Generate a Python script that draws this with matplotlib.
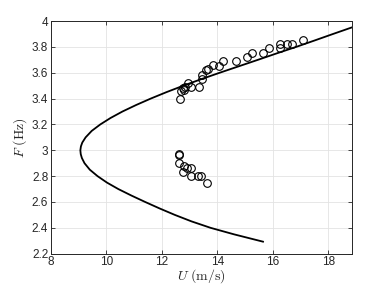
import matplotlib
matplotlib.use("Agg")
import matplotlib.pyplot as plt
from matplotlib.ticker import FuncFormatter

# Model curve, lower end -> vertex -> upper end
curve_U = [15.65, 14.60, 13.76, 13.07, 12.47, 11.92, 11.40, 10.90, 10.43, 10.02,
           9.68, 9.40, 9.21, 9.115, 9.074, 9.06,
           9.08, 9.13, 9.25, 9.47, 9.78, 10.15, 10.58, 11.07, 11.60, 12.17,
           12.78, 13.42, 14.09, 14.78, 15.47, 16.15, 16.85, 17.52, 18.18,
           18.85, 19.5]
curve_F = [2.293, 2.35, 2.40, 2.45, 2.50, 2.55, 2.60, 2.65, 2.70, 2.75,
           2.80, 2.85, 2.90, 2.94, 2.97, 3.00,
           3.03, 3.06, 3.10, 3.15, 3.20, 3.25, 3.30, 3.35, 3.40, 3.45,
           3.50, 3.55, 3.60, 3.65, 3.70, 3.75, 3.80, 3.85, 3.90,
           3.95, 4.00]

# Measured points, upper branch
up_U = [12.65, 12.7, 12.75, 12.8, 12.83, 12.95, 13.07, 13.34, 13.45, 13.45,
        13.61, 13.67, 13.85, 14.06, 14.21, 14.66, 15.06, 15.26, 15.66, 15.87,
        16.28, 16.28, 16.50, 16.68, 17.10]
up_F = [3.395, 3.46, 3.48, 3.47, 3.49, 3.52, 3.49, 3.49, 3.55, 3.58,
        3.62, 3.63, 3.66, 3.65, 3.69, 3.69, 3.72, 3.755, 3.755, 3.79,
        3.79, 3.82, 3.82, 3.82, 3.85]

# Measured points, lower branch
lo_U = [12.63, 12.63, 12.63, 12.80, 12.92, 13.04, 12.77, 13.05, 13.31, 13.43, 13.64]
lo_F = [2.97, 2.96, 2.905, 2.88, 2.86, 2.86, 2.83, 2.80, 2.80, 2.80, 2.75]

xticks = [8, 10, 12, 14, 16, 18]
yticks = [2.2, 2.4, 2.6, 2.8, 3.0, 3.2, 3.4, 3.6, 3.8, 4.0]

plt.rcParams['font.family'] = ['Liberation Sans', 'DejaVu Sans']
plt.rcParams['mathtext.fontset'] = 'cm'

fig = plt.figure(figsize=(3.88, 2.91), dpi=100)
ax = fig.add_axes([0.1314, 0.1282, 0.775, 0.7996])

ax.plot(curve_U, curve_F, color='black', lw=1.3, zorder=3,
        solid_joinstyle='round')
ax.plot(up_U, up_F, linestyle='none', marker='o', markersize=5.5,
        markerfacecolor='none', markeredgecolor='black', mew=0.8, zorder=4)
ax.plot(lo_U, lo_F, linestyle='none', marker='o', markersize=5.5,
        markerfacecolor='none', markeredgecolor='black', mew=0.8, zorder=4)

ax.set_xlim(8, 18.85)
ax.set_ylim(2.2, 4.0)
ax.set_xticks(xticks)
ax.set_yticks(yticks)
ax.yaxis.set_major_formatter(FuncFormatter(lambda v, p: '%g' % round(v, 2)))

ax.grid(True, color='#e3e3e3', lw=0.6)
ax.set_axisbelow(True)
for s in ax.spines.values():
    s.set_color('#262626')
    s.set_linewidth(0.7)
ax.tick_params(direction='in', length=3, width=0.6, top=True, right=True,
               colors='#262626', labelsize=8.5, pad=2)

ax.set_xlabel(r'$U\ \mathrm{(m/s)}$', fontsize=10, color='#262626', labelpad=-1)
ax.set_ylabel(r'$F\ \mathrm{(Hz)}$', fontsize=10, color='#262626', labelpad=2)

fig.savefig('out.png', dpi=100)
